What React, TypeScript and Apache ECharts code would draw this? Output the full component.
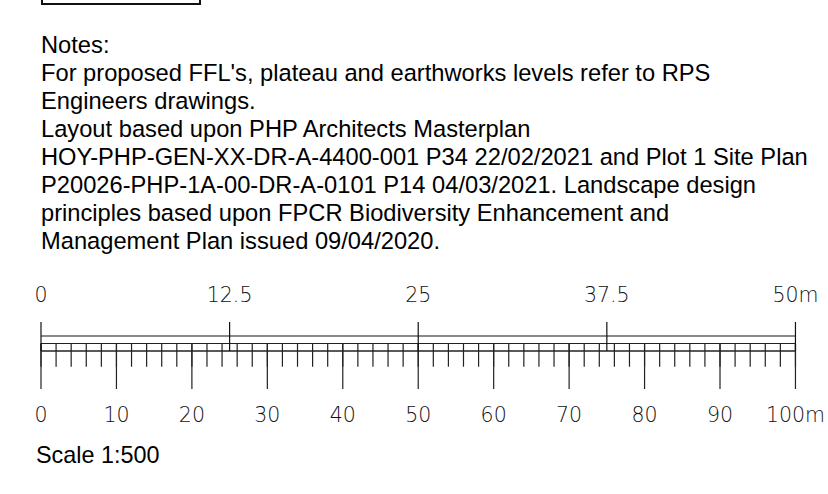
import React, { useEffect, useRef } from 'react';
import * as echarts from 'echarts';

const noteLines: string[] = [
  'Notes:',
  "For proposed FFL's, plateau and earthworks levels refer to RPS",
  'Engineers drawings.',
  'Layout based upon PHP Architects Masterplan',
  'HOY-PHP-GEN-XX-DR-A-4400-001 P34 22/02/2021 and Plot 1 Site Plan',
  'P20026-PHP-1A-00-DR-A-0101 P14 04/03/2021. Landscape design',
  'principles based upon FPCR Biodiversity Enhancement and',
  'Management Plan issued 09/04/2020.',
];
const scaleTitle = 'Scale 1:500';

// bottom scale — labelled ticks
const bottomTicks: number[] = [0, 10, 20, 30, 40, 50, 60, 70, 80, 90, 100];
// bottom scale minor ticks
const minorTicks: number[] = [
  0, 2, 4, 6, 8, 10, 12, 14, 16, 18, 20, 22, 24, 26, 28, 30, 32, 34, 36, 38, 40,
  42, 44, 46, 48, 50, 52, 54, 56, 58, 60, 62, 64, 66, 68, 70, 72, 74, 76, 78, 80,
  82, 84, 86, 88, 90, 92, 94, 96, 98, 100,
];
// top scale ticks
const topTicks: number[] = [0, 12.5, 25, 37.5, 50];
const unit = 'm';

const LABEL_FONT = '"DejaVu Sans", sans-serif';
const TEXT_FONT = '"Liberation Sans", Arial, sans-serif';

function tickRender(y0: number, y1: number, color: string, width: number) {
  return (params: any, api: any) => {
    const a = api.coord([api.value(0), y0]);
    const b = api.coord([api.value(0), y1]);
    return {
      type: 'line',
      shape: { x1: a[0], y1: a[1], x2: b[0], y2: b[1] },
      style: { stroke: color, lineWidth: width },
    };
  };
}

function railRender(params: any, api: any) {
  const rails = [
    { y: 14, color: '#8a8a8a', w: 2 },
    { y: 21.5, color: '#222', w: 1.2 },
    { y: 29, color: '#222', w: 1.6 },
  ];
  return {
    type: 'group',
    children: rails.map((r) => {
      const a = api.coord([0, r.y]);
      const b = api.coord([100, r.y]);
      return {
        type: 'line',
        shape: { x1: a[0], y1: a[1], x2: b[0], y2: b[1] },
        style: { stroke: r.color, lineWidth: r.w },
      };
    }),
  };
}

export default function App() {
  const ref = useRef<HTMLDivElement>(null);
  useEffect(() => {
    if (!ref.current) return;
    const chart = echarts.init(ref.current, undefined, { renderer: 'svg' });
    const axisLabelStyle = {
      fontFamily: LABEL_FONT,
      fontSize: 20.5,
      lineHeight: 21,
      color: '#111',
      fontWeight: 200 as any,
    };
    chart.setOption({
      animation: false,
      backgroundColor: '#fff',
      title: [
        {
          text: noteLines.join('\n'),
          left: 41,
          top: 31,
          padding: 0,
          textStyle: {
            fontFamily: TEXT_FONT,
            fontSize: 23.7,
            lineHeight: 28,
            color: '#000',
            fontWeight: 'normal',
          },
        },
        {
          text: scaleTitle,
          left: 36,
          top: 441,
          padding: 0,
          textStyle: {
            fontFamily: TEXT_FONT,
            fontSize: 23.4,
            lineHeight: 28,
            color: '#000',
            fontWeight: 'normal',
          },
        },
      ],
      graphic: [
        {
          type: 'rect',
          shape: { x: 42, y: -10, width: 158, height: 14 },
          style: { fill: 'none', stroke: '#111', lineWidth: 2 },
        },
      ],
      grid: { left: 41, right: 31, top: 322, height: 67 },
      xAxis: [
        {
          type: 'value',
          position: 'bottom',
          min: 0,
          max: 100,
          interval: 10,
          axisLine: { show: false },
          axisTick: { show: false },
          splitLine: { show: false },
          axisLabel: {
            ...axisLabelStyle,
            margin: 15,
            showMinLabel: true,
            showMaxLabel: true,
            formatter: (v: number) => (v === 100 ? `${v}${unit}` : `${v}`),
          },
        },
        {
          type: 'value',
          position: 'top',
          min: 0,
          max: 50,
          interval: 12.5,
          axisLine: { show: false },
          axisTick: { show: false },
          splitLine: { show: false },
          axisLabel: {
            ...axisLabelStyle,
            margin: 17,
            showMinLabel: true,
            showMaxLabel: true,
            formatter: (v: number) => (v === 50 ? `${v}${unit}` : `${v}`),
          },
        },
      ],
      yAxis: {
        type: 'value',
        min: 0,
        max: 67,
        inverse: true,
        show: false,
      },
      series: [
        {
          type: 'custom',
          name: 'rails',
          xAxisIndex: 0,
          yAxisIndex: 0,
          data: [[0, 0]],
          encode: { x: 0, y: 1 },
          renderItem: railRender,
          silent: true,
        },
        {
          type: 'custom',
          name: 'minor',
          xAxisIndex: 0,
          yAxisIndex: 0,
          data: minorTicks.map((v) => [v, 0]),
          encode: { x: 0, y: 1 },
          renderItem: tickRender(21.5, 44.7, '#222', 1.2),
          silent: true,
        },
        {
          type: 'custom',
          name: 'major',
          xAxisIndex: 0,
          yAxisIndex: 0,
          data: bottomTicks.map((v) => [v, 0]),
          encode: { x: 0, y: 1 },
          renderItem: tickRender(21.5, 67, '#222', 1.2),
          silent: true,
        },
        {
          type: 'custom',
          name: 'top',
          xAxisIndex: 1,
          yAxisIndex: 0,
          data: topTicks.map((v) => [v, 0]),
          encode: { x: 0, y: 1 },
          renderItem: tickRender(0, 29, '#111', 1.2),
          silent: true,
        },
      ],
    });
    return () => chart.dispose();
  }, []);
  return (
    <div
      ref={ref}
      style={{ position: 'absolute', left: 0, top: 0, width: 828, height: 494 }}
    />
  );
}
